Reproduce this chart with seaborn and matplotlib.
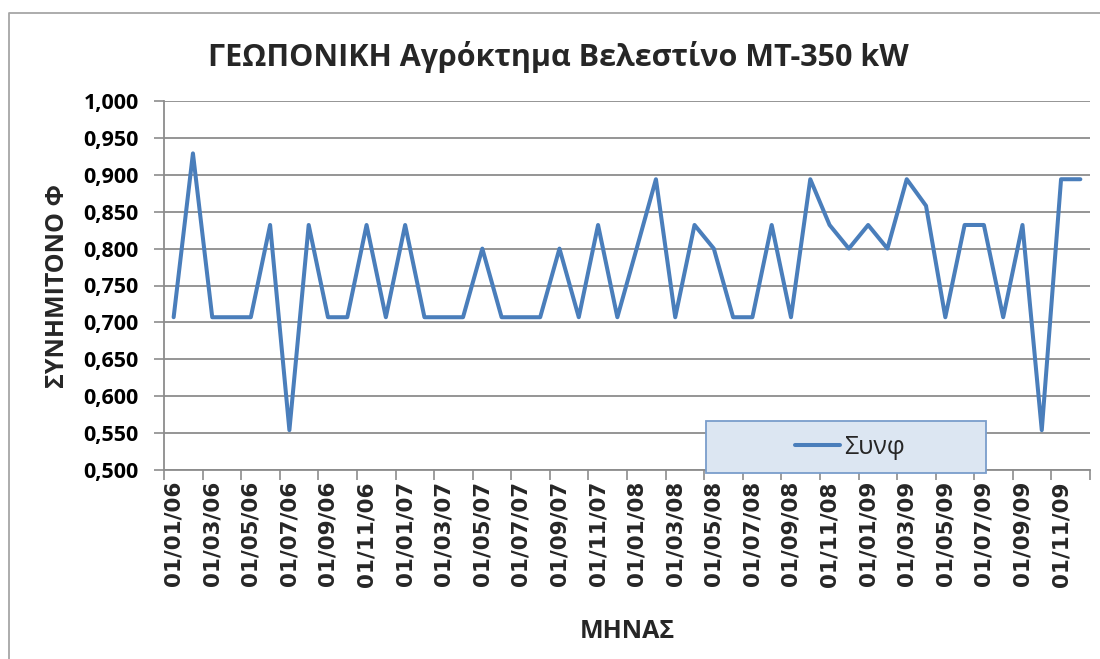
import pandas as pd
import numpy as np
import matplotlib.pyplot as plt
import matplotlib.ticker as mticker
from matplotlib.lines import Line2D
from matplotlib.patches import Rectangle
import seaborn as sns

# monthly categories, 01/01/06 .. 01/12/09
months = pd.date_range('2006-01-01', periods=48, freq='MS')
month_labels = months.strftime('%d/%m/%y').tolist()

# power factor (Συνφ)
cosphi = [0.707, 0.929, 0.707, 0.707, 0.707, 0.832, 0.554, 0.832,
          0.707, 0.707, 0.832, 0.707, 0.832, 0.707, 0.707, 0.707,
          0.800, 0.707, 0.707, 0.707, 0.800, 0.707, 0.832, 0.707,
          0.800, 0.894, 0.707, 0.832, 0.800, 0.707, 0.707, 0.832,
          0.707, 0.894, 0.832, 0.800, 0.832, 0.800, 0.894, 0.858,
          0.707, 0.832, 0.832, 0.707, 0.832, 0.554, 0.894, 0.894]

y_ticks = [0.50, 0.55, 0.60, 0.65, 0.70, 0.75, 0.80, 0.85, 0.90, 0.95, 1.00]

title = 'ΓΕΩΠΟΝΙΚΗ Αγρόκτημα Βελεστίνο ΜΤ-350 kW'
x_title = 'ΜΗΝΑΣ'
y_title = 'ΣΥΝΗΜΙΤΟΝΟ Φ'
series_name = 'Συνφ'

df = pd.DataFrame({'pos': np.arange(len(month_labels)), series_name: cosphi})

sns.set_theme(style='white')
plt.rcParams['font.family'] = ['Open Sans', 'DejaVu Sans']

line_color = '#4A7EBB'
grid_color = '#8C8C8C'

fig = plt.figure(figsize=(11, 6.59), dpi=100)
ax = fig.add_axes([164 / 1100, 1 - 470 / 659, 926 / 1100, 369 / 659])

sns.lineplot(data=df, x='pos', y=series_name, ax=ax, color=line_color,
             linewidth=2.9, label=series_name, legend=False,
             solid_joinstyle='round', solid_capstyle='round')

# axes ranges / ticks
ax.set_xlim(-0.5, len(month_labels) - 0.5)
ax.set_ylim(y_ticks[0], y_ticks[-1])
ax.set_yticks(y_ticks)
ax.yaxis.set_major_formatter(
    mticker.FuncFormatter(lambda v, p: f'{v:.3f}'.replace('.', ',')))
for lab in ax.get_yticklabels():
    lab.set_fontweight('bold')
    lab.set_fontsize(15.5)
ax.tick_params(axis='y', length=7, width=1.2, color=grid_color, pad=11,
               left=True, labelcolor='black')

ax.set_xticks(np.arange(0, len(month_labels), 2))
ax.set_xticklabels(month_labels[::2], rotation=90, fontsize=15.5,
                   fontweight='bold', family='DejaVu Sans')
ax.set_xticks(np.arange(-0.5, len(month_labels), 2), minor=True)
ax.tick_params(axis='x', which='major', length=0, pad=8)
ax.tick_params(axis='x', which='minor', length=7, width=1.2,
               color=grid_color, bottom=True)

ax.yaxis.grid(True, color=grid_color, linewidth=1.3)
ax.xaxis.grid(False)
ax.set_axisbelow(True)
for side in ['top', 'right']:
    ax.spines[side].set_visible(False)
for side in ['left', 'bottom']:
    ax.spines[side].set_color(grid_color)
    ax.spines[side].set_linewidth(1.3)

ax.set_xlabel(x_title, fontsize=18, fontweight='bold', labelpad=23)
ax.set_ylabel(y_title, fontsize=18, fontweight='bold', labelpad=10)

fig.text(0.508, 1 - 57 / 659, title, ha='center', va='center',
         fontsize=22, fontweight='bold')

# legend box like the spreadsheet one
box = Rectangle((706 / 1100, 1 - 473 / 659), 280 / 1100, 52 / 659,
                transform=fig.transFigure, facecolor='#DCE6F2',
                edgecolor='#7A9DCB', linewidth=1.3, zorder=5)
fig.patches.append(box)
handle = Line2D([], [], color=line_color, linewidth=2.9)
leg = fig.legend([handle], [series_name], loc='center',
                 bbox_to_anchor=(850 / 1100, 1 - 447 / 659),
                 frameon=False, fontsize=18, handlelength=1.8,
                 handletextpad=0.15)
leg.set_zorder(6)

# chart-area border
fig.add_artist(Line2D([9 / 1100, 9 / 1100, 1], [0, 1 - 13 / 659, 1 - 13 / 659],
                      transform=fig.transFigure, color='#A6A6A6',
                      linewidth=1.3))

fig.savefig('out.png', dpi=100)
